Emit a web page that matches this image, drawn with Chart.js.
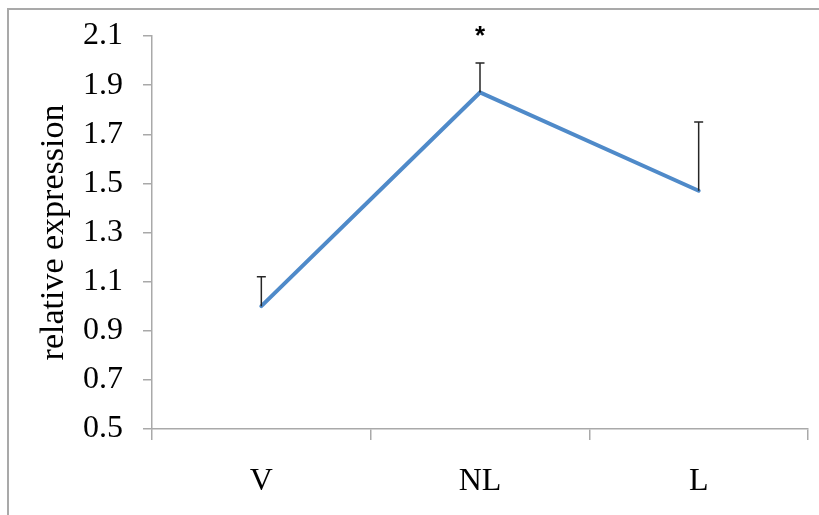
<!DOCTYPE html>
<html>
<head>
<meta charset="utf-8">
<script src="https://cdn.jsdelivr.net/npm/chart.js@4"></script>
<style>
  html, body { margin: 0; padding: 0; background: #fff; overflow: hidden; }
  #frame { position: absolute; left: 7px; top: 8px; width: 900px; height: 600px;
           border-left: 2px solid #a9a9a9; border-top: 2px solid #a9a9a9; }
  #wrap { position: absolute; left: 0; top: 0; width: 819px; height: 515px; }
</style>
</head>
<body>
<div id="frame"></div>
<div id="wrap"><canvas id="c" width="819" height="515"></canvas></div>
<script>
const categories = ['V', 'NL', 'L'];
const values = [1.0, 1.87, 1.47];
const errors = [0.12, 0.12, 0.28];
const marks = ['', '*', ''];
const yMin = 0.5, yMax = 2.1, yStep = 0.2;

const FONT = "'Liberation Serif', 'Times New Roman', serif";
const AXIS = '#a9a9a9';

const errorBars = {
  id: 'errorBars',
  afterDatasetsDraw(chart) {
    const ctx = chart.ctx;
    const xs = chart.scales.x, ys = chart.scales.y;
    ctx.save();
    ctx.strokeStyle = '#262626';
    ctx.lineWidth = 1.5;
    values.forEach((v, i) => {
      const x = xs.getPixelForValue(i);
      const y0 = ys.getPixelForValue(v);
      const y1 = ys.getPixelForValue(v + errors[i]);
      ctx.beginPath();
      ctx.moveTo(x, y0); ctx.lineTo(x, y1);
      ctx.moveTo(x - 4.5, y1); ctx.lineTo(x + 4.5, y1);
      ctx.stroke();
      if (marks[i]) {
        ctx.fillStyle = '#000';
        ctx.font = "bold 26px 'Liberation Sans', Arial, sans-serif";
        ctx.textAlign = 'center';
        ctx.textBaseline = 'middle';
        ctx.fillText(marks[i], x, y1 - 26);
      }
    });
    ctx.restore();
  }
};

new Chart(document.getElementById('c'), {
  type: 'line',
  data: {
    labels: categories,
    datasets: [{
      data: values,
      borderColor: '#4f8ac9',
      borderWidth: 4,
      pointRadius: 0,
      tension: 0,
      borderCapStyle: 'round',
      borderJoinStyle: 'miter',
      fill: false
    }]
  },
  options: {
    responsive: false,
    animation: false,
    events: [],
    layout: { padding: { left: 10, top: 36, right: 11, bottom: 0 } },
    plugins: { legend: { display: false }, tooltip: { enabled: false } },
    scales: {
      x: {
        type: 'category',
        offset: true,
        grid: { offset: true, drawOnChartArea: false, drawTicks: true, tickLength: 11, color: AXIS, lineWidth: 1.5 },
        border: { color: AXIS, width: 1.5 },
        ticks: { color: '#000', font: { family: FONT, size: 32 }, padding: 22, maxRotation: 0 },
        afterFit(scale) { scale.height = 515 - 429 - 0; scale.paddingLeft = 0; scale.paddingRight = 0; }
      },
      y: {
        min: yMin, max: yMax,
        grid: { drawOnChartArea: false, drawTicks: true, tickLength: 9, color: AXIS, lineWidth: 1.5 },
        border: { color: AXIS, width: 1.5 },
        ticks: {
          stepSize: yStep, color: '#000', font: { family: FONT, size: 32 }, padding: 20,
          callback: (v) => Number(v).toFixed(1)
        },
        title: { display: true, text: 'relative expression', color: '#000',
                 font: { family: FONT, size: 34 }, padding: { top: 24, bottom: 0 } },
        afterFit(scale) { scale.width = 152 - 10; scale.paddingTop = 0; scale.paddingBottom = 0; }
      }
    }
  },
  plugins: [errorBars]
});
</script>
</body>
</html>
